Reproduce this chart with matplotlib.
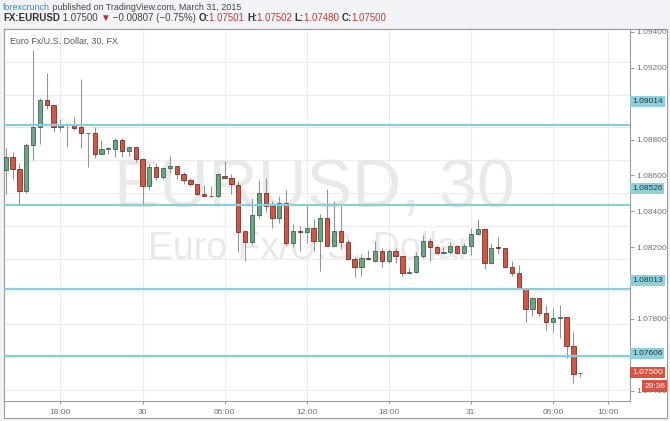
import matplotlib
matplotlib.use("Agg")
import matplotlib.pyplot as plt
import matplotlib.transforms as mtransforms
from matplotlib.patches import Rectangle

plt.rcParams['font.family'] = ['Liberation Sans', 'DejaVu Sans']

# EUR/USD 30 minute candles, 29 Mar 14:00 .. 31 Mar 08:00
opens = [1.08743, 1.08822, 1.08749, 1.08615, 1.08895, 1.09004, 1.09169, 1.09138, 1.09004, 1.09014,
         1.09017, 1.09004, 1.08968, 1.08968, 1.08840, 1.08871, 1.08871, 1.08925, 1.08858, 1.08883,
         1.08810, 1.08640, 1.08761, 1.08700, 1.08755, 1.08767, 1.08713, 1.08682, 1.08652, 1.08591,
         1.08582, 1.08579, 1.08706, 1.08694, 1.08646, 1.08366, 1.08299, 1.08469, 1.08603, 1.08518,
         1.08445, 1.08542, 1.08293, 1.08366, 1.08360, 1.08384, 1.08305, 1.08445, 1.08275, 1.08366,
         1.08299, 1.08196, 1.08147, 1.08202, 1.08184, 1.08244, 1.08184, 1.08244, 1.08214, 1.08111,
         1.08117, 1.08214, 1.08305, 1.08269, 1.08232, 1.08238, 1.08275, 1.08232, 1.08275, 1.08348,
         1.08378, 1.08171, 1.08269, 1.08263, 1.08147, 1.08111, 1.08013, 1.07892, 1.07959, 1.07867,
         1.07813, 1.07837, 1.07843, 1.07667, 1.07501]
highs = [1.08877, 1.08852, 1.08785, 1.08907, 1.09473, 1.09181, 1.09333, 1.09138, 1.09053, 1.09029,
         1.09065, 1.09296, 1.08968, 1.09004, 1.08925, 1.08883, 1.08938, 1.08938, 1.08883, 1.08883,
         1.08810, 1.08785, 1.08785, 1.08761, 1.08828, 1.08767, 1.08731, 1.08694, 1.08658, 1.08646,
         1.08640, 1.08725, 1.08798, 1.08713, 1.08676, 1.08366, 1.08567, 1.08682, 1.08694, 1.08554,
         1.08579, 1.08621, 1.08409, 1.08396, 1.08524, 1.08439, 1.08475, 1.08627, 1.08554, 1.08518,
         1.08317, 1.08208, 1.08226, 1.08250, 1.08305, 1.08263, 1.08257, 1.08263, 1.08214, 1.08147,
         1.08238, 1.08342, 1.08323, 1.08281, 1.08269, 1.08299, 1.08281, 1.08293, 1.08384, 1.08439,
         1.08378, 1.08293, 1.08330, 1.08263, 1.08184, 1.08159, 1.08013, 1.07965, 1.07959, 1.07916,
         1.07898, 1.07916, 1.07843, 1.07752, 1.07502]
lows = [1.08597, 1.08688, 1.08536, 1.08603, 1.08804, 1.08901, 1.09114, 1.08974, 1.08980, 1.08883,
        1.08986, 1.08877, 1.08761, 1.08816, 1.08840, 1.08840, 1.08822, 1.08822, 1.08828, 1.08792,
        1.08530, 1.08621, 1.08682, 1.08688, 1.08725, 1.08688, 1.08658, 1.08640, 1.08585, 1.08579,
        1.08573, 1.08573, 1.08694, 1.08591, 1.08238, 1.08184, 1.08281, 1.08445, 1.08482, 1.08384,
        1.08415, 1.08275, 1.08269, 1.08244, 1.08293, 1.08244, 1.08123, 1.08275, 1.08275, 1.08257,
        1.08190, 1.08086, 1.08092, 1.08190, 1.08177, 1.08147, 1.08171, 1.08171, 1.08092, 1.08105,
        1.08111, 1.08202, 1.08184, 1.08226, 1.08226, 1.08226, 1.08226, 1.08226, 1.08220, 1.08342,
        1.08135, 1.08165, 1.08226, 1.08147, 1.08092, 1.08013, 1.07813, 1.07849, 1.07849, 1.07764,
        1.07752, 1.07715, 1.07594, 1.07442, 1.07480]
closes = [1.08822, 1.08749, 1.08615, 1.08895, 1.09004, 1.09169, 1.09138, 1.09004, 1.09017, 1.09016,
          1.08998, 1.08968, 1.08965, 1.08840, 1.08871, 1.08877, 1.08925, 1.08858, 1.08883, 1.08810,
          1.08640, 1.08761, 1.08700, 1.08755, 1.08767, 1.08713, 1.08682, 1.08652, 1.08591, 1.08579,
          1.08579, 1.08713, 1.08694, 1.08652, 1.08360, 1.08299, 1.08469, 1.08603, 1.08518, 1.08445,
          1.08542, 1.08293, 1.08366, 1.08360, 1.08384, 1.08305, 1.08445, 1.08275, 1.08366, 1.08299,
          1.08196, 1.08147, 1.08202, 1.08196, 1.08244, 1.08184, 1.08244, 1.08214, 1.08111, 1.08117,
          1.08214, 1.08305, 1.08269, 1.08232, 1.08238, 1.08275, 1.08232, 1.08275, 1.08348, 1.08378,
          1.08171, 1.08263, 1.08263, 1.08147, 1.08111, 1.08013, 1.07892, 1.07959, 1.07867, 1.07813,
          1.07837, 1.07843, 1.07667, 1.07497, 1.07500]

levels = [1.09014, 1.08526, 1.08013, 1.07606]
time_ticks = [8, 20, 32, 44, 56, 68, 80, 88]
time_labels = ["18:00", "30", "06:00", "12:00", "18:00", "31", "06:00", "10:00"]
# labels hidden behind the level boxes (1.090, 1.080, 1.076) are left out
price_ticks = [1.074, 1.078, 1.082, 1.084, 1.086, 1.088, 1.092, 1.094]
grid_prices = [1.074, 1.076, 1.078, 1.080, 1.082, 1.084, 1.086, 1.088, 1.090, 1.092, 1.094, 1.096]
last_price = 1.07500
timer = "29:36"

W, H = 670, 421
UP, UP_EDGE = "#6ba583", "#225437"
DOWN, DOWN_EDGE = "#d75442", "#5b1a13"
LEVEL = "#86cfdb"


def fx(px):
    return px / W


def fy(py):
    return 1 - py / H


fig = plt.figure(figsize=(6.7, 4.21), dpi=100, facecolor="#f1f3f6")

frame = Rectangle((fx(4), fy(418)), (667 - 4) / W, (418 - 29) / H, transform=fig.transFigure,
                  facecolor="white", edgecolor="#9c9c9c", lw=0.8, zorder=-1)
fig.add_artist(frame)

ax = fig.add_axes([fx(4), fy(401), (630 - 4) / W, (401 - 29) / H])
ax.set_xlim(-0.25, 91.27)
ax.set_ylim(1.07332, 1.09594)
ax.set_axisbelow(True)

# candles
for i in range(len(opens)):
    o, h, l, c = opens[i], highs[i], lows[i], closes[i]
    up = c >= o
    ax.vlines(i, l, h, color="#959595", lw=0.8, zorder=2)
    ax.bar(i, c - o if abs(c - o) > 0.000015 else 0.000015, bottom=o, width=0.62,
           color=UP if up else DOWN, edgecolor=UP_EDGE if up else DOWN_EDGE, lw=0.5, zorder=3)

for lv in levels:
    ax.axhline(lv, color=LEVEL, lw=1.6, zorder=4)

# watermark
ax.text((314 - 4) / 626, (401 - 189) / 372, "EURUSD, 30", transform=ax.transAxes,
        ha="center", va="center", fontsize=49, color="#e9e9e9", zorder=0.6)
ax.text((309 - 4) / 626, (401 - 249) / 372, "Euro Fx/U.S. Dollar", transform=ax.transAxes,
        ha="center", va="center", fontsize=27, color="#e9e9e9", zorder=0.6)

ax.text(0.009, (401 - 41) / 372, "Euro Fx/U.S. Dollar, 30, FX", transform=ax.transAxes,
        ha="left", va="center", fontsize=6.4, color="#555555", zorder=5)

# price scale on the right
ax2 = ax.twinx()
ax2.set_ylim(1.07343, 1.09416)
ax2.set_yticks(price_ticks)
ax2.set_yticklabels([f"{p:.5f}" for p in price_ticks])
ax2.tick_params(axis="y", direction="out", length=3, color="#9c9c9c", labelsize=6,
                labelcolor="#707070", pad=1.5)
for s in ax2.spines.values():
    s.set_visible(False)

ax.set_xticks(time_ticks)
ax.set_xticklabels(time_labels)
ax.set_yticks(grid_prices)
ax.grid(True, color="#ececec", lw=0.8)
ax.tick_params(axis="y", left=False, labelleft=False, right=False, labelright=False)
ax.tick_params(axis="x", direction="out", length=2, color="#9c9c9c", labelsize=6,
               labelcolor="#707070", pad=4)
for s in ax.spines.values():
    s.set_color("#9c9c9c")
    s.set_linewidth(0.8)

tr = mtransforms.blended_transform_factory(ax2.transAxes, ax2.transData)
for lv in levels:
    ax2.text(1.003, lv, f"{lv:.5f}", transform=tr, ha="left", va="center", fontsize=6,
             color="#1d3c44", clip_on=False,
             bbox=dict(boxstyle="square,pad=0.25", fc="#8fd0db", ec="none"))
ax2.text(1.003, last_price, f"{last_price:.5f}", transform=tr, ha="left", va="center",
         fontsize=6, color="white", clip_on=False,
         bbox=dict(boxstyle="square,pad=0.25", fc=DOWN, ec="none"))
ax2.annotate(timer, xy=(1.056, last_price), xycoords=tr, xytext=(0, -9.5),
             textcoords="offset points", ha="right", va="center", fontsize=6, color="white",
             annotation_clip=False,
             bbox=dict(boxstyle="square,pad=0.25", fc=DOWN, ec="none"))

# header
renderer = fig.canvas.get_renderer()


def write_parts(x, y, parts, size):
    for txt, color, weight in parts:
        t = fig.text(fx(x), fy(y), txt, color=color, fontsize=size, fontweight=weight,
                     ha="left", va="center")
        x += t.get_window_extent(renderer).width


write_parts(3, 7, [("forexcrunch", "#2d8bc6", "normal"),
                   (" published on TradingView.com, March 31, 2015", "#444444", "normal")], 6.4)
write_parts(3, 18, [("FX:EURUSD", "#333333", "bold"), (" 1.07500 ", "#444444", "normal"),
                    ("▼", "#c0282b", "normal"), (" \u22120.00807 (\u22120.75%) ", "#444444", "normal"),
                    ("O:", "#333333", "bold"), ("1.07501 ", "#c23b35", "normal"),
                    ("H:", "#333333", "bold"), ("1.07502 ", "#c23b35", "normal"),
                    ("L:", "#333333", "bold"), ("1.07480 ", "#c23b35", "normal"),
                    ("C:", "#333333", "bold"), ("1.07500", "#c23b35", "normal")], 7)

fig.savefig("out.png", dpi=100, facecolor=fig.get_facecolor())
